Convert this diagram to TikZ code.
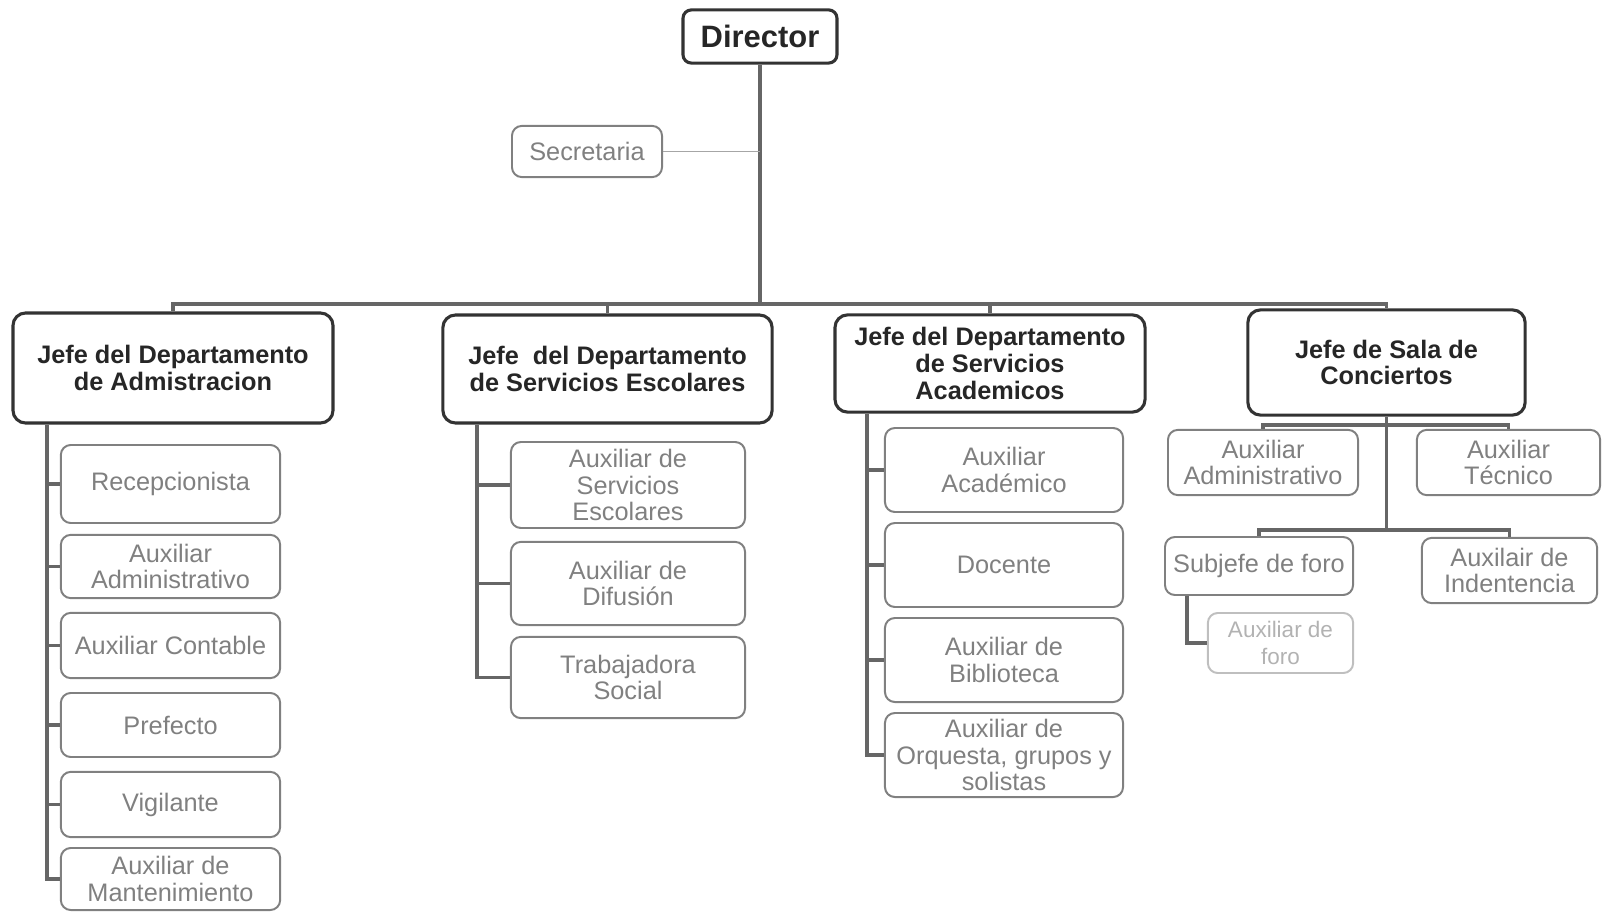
\documentclass[tikz,border=0pt]{standalone}
\usepackage{fontspec}
\setmainfont{Liberation Sans}
\usetikzlibrary{positioning}

\begin{document}
\begin{tikzpicture}[
    x=0.025cm, y=-0.025cm,
    head/.style={
        rectangle,
        draw=black!80,
        line width=2.2pt,
        rounded corners=6pt,
        inner sep=0pt,
        text=black!85,
        font=\fontsize{22}{24}\selectfont\bfseries
    },
    boss/.style={
        rectangle,
        draw=black!80,
        line width=2.2pt,
        rounded corners=9pt,
        align=center,
        inner sep=0pt,
        text=black!85,
        font=\fontsize{18}{19}\selectfont\bfseries
    },
    staff/.style={
        rectangle,
        draw=black!50,
        line width=1.4pt,
        rounded corners=7pt,
        align=center,
        inner sep=0pt,
        text=black!50,
        font=\fontsize{18}{19}\selectfont
    },
    faint/.style={staff, draw=black!25, text=black!30, font=\fontsize{16}{19}\selectfont},
    link/.style={draw=black!60, line width=2.4pt},
    thinlink/.style={draw=black!35, line width=0.8pt}
]
\useasboundingbox (0,0) rectangle (1610,912);

% === Top ===
\node[head, minimum width=3.85cm, minimum height=1.33cm] (dir) at (760,36.5) {Director};
\node[staff, minimum width=3.75cm, minimum height=1.28cm] (sec) at (587,151.5) {Secretaria};

% === Department heads ===
\node[boss, minimum width=8cm, minimum height=2.75cm] (adm) at (173,368) {Jefe del Departamento\\de Admistracion};
\node[boss, minimum width=8.23cm, minimum height=2.7cm] (esc) at (607.5,369) {Jefe\ \ del Departamento\\de Servicios Escolares};
\node[boss, minimum width=7.75cm, minimum height=2.43cm] (acad) at (990,363.5) {Jefe del Departamento\\de Servicios\\Academicos};
\node[boss, minimum width=6.93cm, minimum height=2.63cm] (conc) at (1386.5,362.5) {Jefe de Sala de\\Conciertos};

\coordinate (bus) at (0,304);
\draw[link] (dir.south) -- (dir.south |- bus);
\draw[link] (adm.north) -- (adm.north |- bus) -- (conc.north |- bus) -- (conc.north);
\draw[link] (esc.north) -- (esc.north |- bus);
\draw[link] (acad.north) -- (acad.north |- bus);
\draw[thinlink] (sec.east) -- (sec.east -| dir.south);

% === Admistracion ===
\node[staff, minimum width=5.48cm, minimum height=1.95cm] (recep) at (170.5,484) {Recepcionista};
\node[staff, minimum width=5.48cm, minimum height=1.58cm] (admaux) at (170.5,566.5) {Auxiliar\\Administrativo};
\node[staff, minimum width=5.48cm, minimum height=1.63cm] (cont) at (170.5,645.5) {Auxiliar Contable};
\node[staff, minimum width=5.48cm, minimum height=1.6cm] (pref) at (170.5,725) {Prefecto};
\node[staff, minimum width=5.48cm, minimum height=1.63cm] (vig) at (170.5,804.5) {Vigilante};
\node[staff, minimum width=5.48cm, minimum height=1.55cm] (mant) at (170.5,879) {Auxiliar de\\Mantenimiento};

\coordinate (admrail) at (47,0);
\draw[link] (adm.south -| admrail) |- (mant.west);
\foreach \n in {recep, admaux, cont, pref, vig}
    \draw[link] (\n.west -| admrail) -- (\n.west);

% === Servicios Escolares ===
\node[staff, minimum width=5.85cm, minimum height=2.15cm] (servesc) at (628,485) {Auxiliar de\\Servicios\\Escolares};
\node[staff, minimum width=5.85cm, minimum height=2.08cm] (difu) at (628,583.5) {Auxiliar de\\Difusión};
\node[staff, minimum width=5.85cm, minimum height=2.03cm] (trab) at (628,677.5) {Trabajadora\\Social};

\coordinate (escrail) at (477,0);
\draw[link] (esc.south -| escrail) |- (trab.west);
\foreach \n in {servesc, difu}
    \draw[link] (\n.west -| escrail) -- (\n.west);

% === Servicios Academicos ===
\node[staff, minimum width=5.95cm, minimum height=2.1cm] (acadaux) at (1004,470) {Auxiliar\\Académico};
\node[staff, minimum width=5.95cm, minimum height=2.1cm] (doc) at (1004,565) {Docente};
\node[staff, minimum width=5.95cm, minimum height=2.1cm] (bibl) at (1004,660) {Auxiliar de\\Biblioteca};
\node[staff, minimum width=5.95cm, minimum height=2.1cm] (orq) at (1004,755) {Auxiliar de\\Orquesta, grupos y\\solistas};

\coordinate (acadrail) at (867,0);
\draw[link] (acad.south -| acadrail) |- (orq.west);
\foreach \n in {acadaux, doc, bibl}
    \draw[link] (\n.west -| acadrail) -- (\n.west);

% === Sala de Conciertos ===
\node[staff, minimum width=4.75cm, minimum height=1.63cm] (concadm) at (1263,462.5) {Auxiliar\\Administrativo};
\node[staff, minimum width=4.58cm, minimum height=1.63cm] (conctec) at (1508.5,462.5) {Auxiliar\\Técnico};
\node[staff, minimum width=4.7cm, minimum height=1.45cm] (subj) at (1259,566) {Subjefe de foro};
\node[staff, minimum width=4.38cm, minimum height=1.63cm] (indt) at (1509.5,570.5) {Auxilair de\\Indentencia};
\node[faint, minimum width=3.63cm, minimum height=1.5cm] (foro) at (1280.5,643) {Auxiliar de\\foro};

\coordinate (row1) at (0,425);
\coordinate (row2) at (0,530);
\draw[link] (conc.south) -- (conc.south |- row2);
\draw[link] (concadm.north) |- (conctec.north |- row1) -- (conctec.north);
\draw[link] (subj.north) |- (indt.north |- row2) -- (indt.north);
\coordinate (ororail) at (1187,0);
\draw[link] (subj.south -| ororail) |- (foro.west);

\end{tikzpicture}
\end{document}
